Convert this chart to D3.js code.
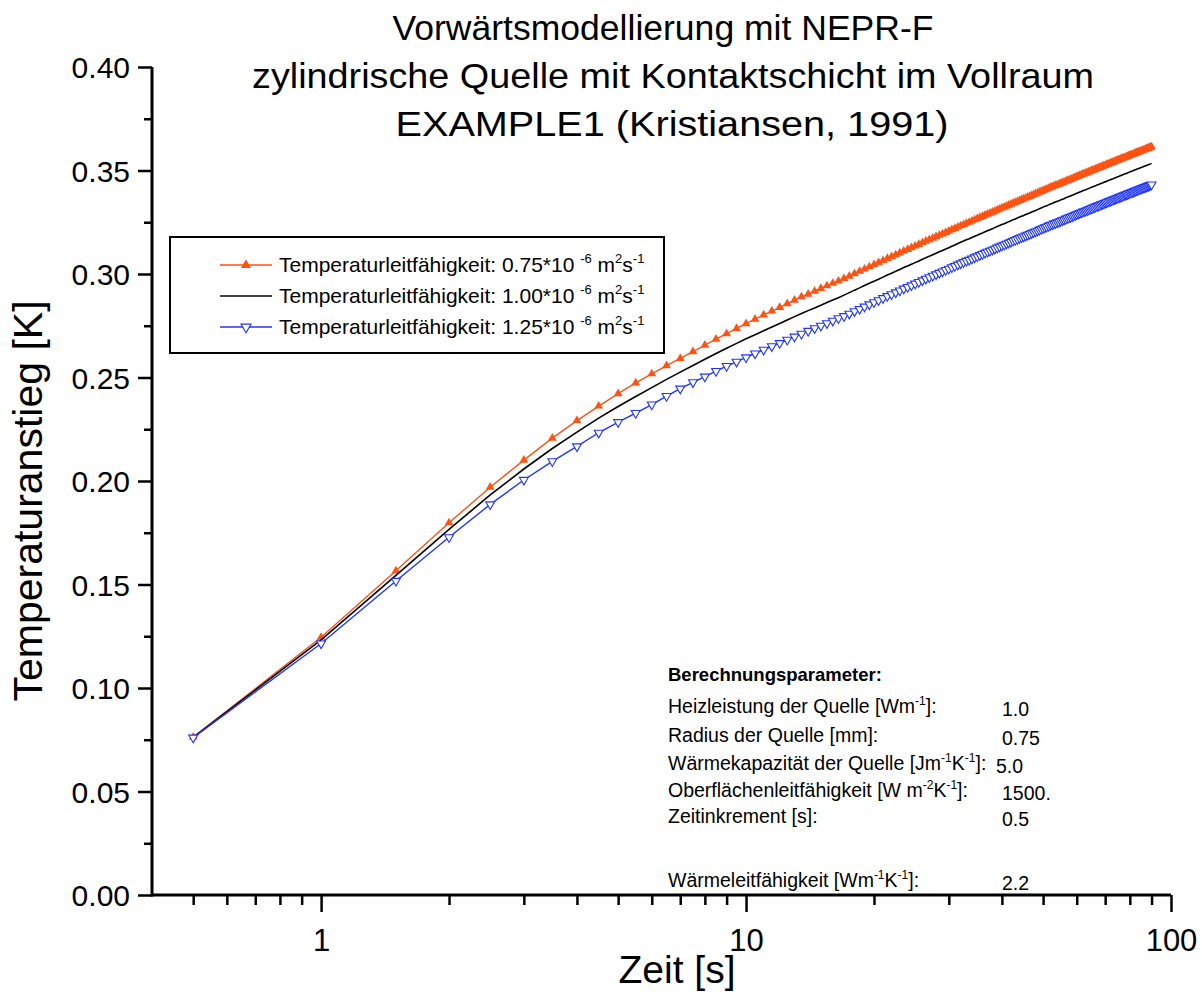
<!DOCTYPE html>
<html>
<head>
<meta charset="utf-8">
<script src="https://cdn.jsdelivr.net/npm/d3@7"></script>
<style>
  body { margin: 0; background: #fff; }
  svg { display: block; }
  text { font-family: "Liberation Sans", Arial, Helvetica, sans-serif; fill: #000; }
</style>
</head>
<body>
<svg id="chart" width="1202" height="997"></svg>
<script>
// Sampling times [s] (time increment 0.5 s)
const time = [
  0.5,1,1.5,2,2.5,3,3.5,4,4.5,5,5.5,6,6.5,7,7.5,8,8.5,9,9.5,10,
  10.5,11,11.5,12,12.5,13,13.5,14,14.5,15,15.5,16,16.5,17,17.5,18,18.5,19,19.5,20,
  20.5,21,21.5,22,22.5,23,23.5,24,24.5,25,25.5,26,26.5,27,27.5,28,28.5,29,29.5,30,
  30.5,31,31.5,32,32.5,33,33.5,34,34.5,35,35.5,36,36.5,37,37.5,38,38.5,39,39.5,40,
  40.5,41,41.5,42,42.5,43,43.5,44,44.5,45,45.5,46,46.5,47,47.5,48,48.5,49,49.5,50,
  50.5,51,51.5,52,52.5,53,53.5,54,54.5,55,55.5,56,56.5,57,57.5,58,58.5,59,59.5,60,
  60.5,61,61.5,62,62.5,63,63.5,64,64.5,65,65.5,66,66.5,67,67.5,68,68.5,69,69.5,70,
  70.5,71,71.5,72,72.5,73,73.5,74,74.5,75,75.5,76,76.5,77,77.5,78,78.5,79,79.5,80,
  80.5,81,81.5,82,82.5,83,83.5,84,84.5,85,85.5,86,86.5,87,87.5,88,88.5,89,89.5,90
];

// Temperature rise [K], thermal diffusivity 0.75e-6 m^2/s
const rise075 = [
  0.0763,0.1245,0.1566,0.1798,0.1970,0.2101,0.2207,0.2292,0.2362,0.2422,0.2474,0.2518,0.2557,0.2592,0.2625,0.2656,0.2685,0.2712,0.2737,0.2760,
  0.2782,0.2802,0.2821,0.2839,0.2857,0.2874,0.2890,0.2903,0.2917,0.2930,0.2943,0.2955,0.2966,0.2978,0.2990,0.3002,0.3013,0.3024,0.3035,0.3045,
  0.3055,0.3065,0.3075,0.3084,0.3093,0.3102,0.3111,0.3119,0.3127,0.3135,0.3143,0.3151,0.3159,0.3166,0.3173,0.3180,0.3187,0.3194,0.3201,0.3207,
  0.3214,0.3220,0.3227,0.3233,0.3239,0.3245,0.3250,0.3256,0.3262,0.3267,0.3273,0.3278,0.3284,0.3289,0.3294,0.3299,0.3304,0.3309,0.3314,0.3319,
  0.3323,0.3328,0.3333,0.3337,0.3342,0.3346,0.3350,0.3355,0.3359,0.3363,0.3367,0.3371,0.3375,0.3379,0.3383,0.3387,0.3391,0.3395,0.3399,0.3403,
  0.3407,0.3410,0.3414,0.3418,0.3421,0.3425,0.3428,0.3431,0.3434,0.3438,0.3441,0.3444,0.3448,0.3451,0.3454,0.3457,0.3460,0.3463,0.3467,0.3470,
  0.3473,0.3476,0.3479,0.3482,0.3485,0.3487,0.3490,0.3493,0.3496,0.3499,0.3501,0.3504,0.3507,0.3510,0.3512,0.3515,0.3518,0.3520,0.3523,0.3525,
  0.3528,0.3530,0.3533,0.3535,0.3538,0.3540,0.3543,0.3545,0.3548,0.3550,0.3552,0.3555,0.3557,0.3559,0.3562,0.3564,0.3566,0.3568,0.3571,0.3573,
  0.3575,0.3577,0.3579,0.3582,0.3584,0.3586,0.3588,0.3590,0.3592,0.3594,0.3596,0.3598,0.3600,0.3602,0.3604,0.3606,0.3608,0.3610,0.3612,0.3614
];

// Temperature rise [K], thermal diffusivity 1.00e-6 m^2/s
const rise100 = [
  0.0762,0.1232,0.1544,0.1766,0.1933,0.2058,0.2157,0.2236,0.2304,0.2360,0.2408,0.2451,0.2491,0.2526,0.2558,0.2588,0.2616,0.2641,0.2665,0.2687,
  0.2707,0.2726,0.2744,0.2761,0.2778,0.2794,0.2809,0.2823,0.2836,0.2849,0.2862,0.2874,0.2885,0.2898,0.2910,0.2922,0.2933,0.2944,0.2955,0.2965,
  0.2975,0.2985,0.2995,0.3004,0.3013,0.3022,0.3031,0.3039,0.3047,0.3055,0.3063,0.3071,0.3079,0.3086,0.3093,0.3100,0.3107,0.3114,0.3121,0.3127,
  0.3134,0.3140,0.3147,0.3153,0.3159,0.3165,0.3170,0.3176,0.3182,0.3187,0.3193,0.3198,0.3204,0.3209,0.3214,0.3219,0.3224,0.3229,0.3234,0.3239,
  0.3243,0.3248,0.3253,0.3257,0.3262,0.3266,0.3270,0.3275,0.3279,0.3283,0.3287,0.3291,0.3295,0.3299,0.3303,0.3307,0.3311,0.3315,0.3319,0.3323,
  0.3327,0.3330,0.3334,0.3338,0.3341,0.3345,0.3348,0.3351,0.3354,0.3358,0.3361,0.3364,0.3368,0.3371,0.3374,0.3377,0.3380,0.3383,0.3387,0.3390,
  0.3393,0.3396,0.3399,0.3402,0.3405,0.3407,0.3410,0.3413,0.3416,0.3419,0.3421,0.3424,0.3427,0.3430,0.3432,0.3435,0.3438,0.3440,0.3443,0.3445,
  0.3448,0.3450,0.3453,0.3455,0.3458,0.3460,0.3463,0.3465,0.3468,0.3470,0.3472,0.3475,0.3477,0.3479,0.3482,0.3484,0.3486,0.3488,0.3491,0.3493,
  0.3495,0.3497,0.3499,0.3502,0.3504,0.3506,0.3508,0.3510,0.3512,0.3514,0.3516,0.3518,0.3520,0.3522,0.3524,0.3526,0.3528,0.3530,0.3532,0.3534
];

// Temperature rise [K], thermal diffusivity 1.25e-6 m^2/s
const rise125 = [
  0.0760,0.1215,0.1517,0.1728,0.1887,0.2005,0.2095,0.2167,0.2233,0.2284,0.2328,0.2369,0.2410,0.2446,0.2477,0.2504,0.2531,0.2555,0.2576,0.2597,
  0.2616,0.2634,0.2651,0.2666,0.2682,0.2697,0.2711,0.2725,0.2738,0.2750,0.2762,0.2774,0.2786,0.2796,0.2808,0.2820,0.2831,0.2842,0.2853,0.2863,
  0.2873,0.2883,0.2893,0.2902,0.2911,0.2920,0.2929,0.2937,0.2945,0.2953,0.2961,0.2969,0.2977,0.2984,0.2991,0.2998,0.3005,0.3012,0.3019,0.3025,
  0.3032,0.3038,0.3045,0.3051,0.3057,0.3063,0.3068,0.3074,0.3080,0.3085,0.3091,0.3096,0.3102,0.3107,0.3112,0.3117,0.3122,0.3127,0.3132,0.3137,
  0.3141,0.3146,0.3151,0.3155,0.3160,0.3164,0.3168,0.3173,0.3177,0.3181,0.3185,0.3189,0.3193,0.3197,0.3201,0.3205,0.3209,0.3213,0.3217,0.3221,
  0.3225,0.3228,0.3232,0.3236,0.3239,0.3243,0.3246,0.3249,0.3252,0.3256,0.3259,0.3262,0.3266,0.3269,0.3272,0.3275,0.3278,0.3281,0.3285,0.3288,
  0.3291,0.3294,0.3297,0.3300,0.3303,0.3305,0.3308,0.3311,0.3314,0.3317,0.3319,0.3322,0.3325,0.3328,0.3330,0.3333,0.3336,0.3338,0.3341,0.3343,
  0.3346,0.3348,0.3351,0.3353,0.3356,0.3358,0.3361,0.3363,0.3366,0.3368,0.3370,0.3373,0.3375,0.3377,0.3380,0.3382,0.3384,0.3386,0.3389,0.3391,
  0.3393,0.3395,0.3397,0.3400,0.3402,0.3404,0.3406,0.3408,0.3410,0.3412,0.3414,0.3416,0.3418,0.3420,0.3422,0.3424,0.3426,0.3428,0.3430,0.3432
];

// Axis ticks
const xMajorTicks = [1, 10, 100];
const xMinorTicks = [0.5,0.6,0.7,0.8,0.9,2,3,4,5,6,7,8,9,20,30,40,50,60,70,80,90];
const yMajorTicks = [0.00,0.05,0.10,0.15,0.20,0.25,0.30,0.35,0.40];
const yMinorTicks = [0.025,0.075,0.125,0.175,0.225,0.275,0.325,0.375];

// Texts
const titleLines = [
  "Vorwärtsmodellierung mit NEPR-F",
  "zylindrische Quelle mit Kontaktschicht im Vollraum",
  "EXAMPLE1 (Kristiansen, 1991)"
];
const xTitle = "Zeit [s]";
const yTitle = "Temperaturanstieg [K]";
const diffusivityLabels = ["0.75", "1.00", "1.25"];
const paramHeader = "Berechnungsparameter:";
// each label is a list of [text, isSuperscript] pieces
const paramLabels = [
  [["Heizleistung der Quelle [Wm", 0], ["-1", 1], ["]:", 0]],
  [["Radius der Quelle [mm]:", 0]],
  [["Wärmekapazität der Quelle [Jm", 0], ["-1", 1], ["K", 0], ["-1", 1], ["]:", 0]],
  [["Oberflächenleitfähigkeit [W m", 0], ["-2", 1], ["K", 0], ["-1", 1], ["]:", 0]],
  [["Zeitinkrement [s]:", 0]],
  [["Wärmeleitfähigkeit [Wm", 0], ["-1", 1], ["K", 0], ["-1", 1], ["]:", 0]]
];
const paramValues = ["1.0", "0.75", "5.0", "1500.", "0.5", "2.2"];

// ---------------------------------------------------------------
const svg = d3.select("#chart");
const ORANGE = "#ff5314";
const BLUE = "#1f35ff";

const x = d3.scaleLog().domain([0.4, 100]).range([152, 1171]);
const y = d3.scaleLinear().domain([0, 0.4]).range([895, 67]);

// Title (three centred lines, widths fitted to the layout)
const titleWidths = [541, 842, 553];
const titleCentres = [663, 673, 672];
svg.append("g").selectAll("text").data(titleLines).join("text")
  .attr("x", (d, i) => titleCentres[i]).attr("y", (d, i) => 40 + i * 48)
  .attr("text-anchor", "middle").attr("font-size", 35)
  .attr("textLength", (d, i) => titleWidths[i]).attr("lengthAdjust", "spacingAndGlyphs")
  .text(d => d);

// X axis
const gx = svg.append("g").attr("transform", `translate(0,${y(0)})`);
gx.call(d3.axisBottom(x).tickValues(xMinorTicks).tickSize(10).tickSizeOuter(0).tickFormat(""));
gx.call(g => g.select(".domain").remove());
const gx2 = svg.append("g").attr("transform", `translate(0,${y(0)})`);
gx2.call(d3.axisBottom(x).tickValues(xMajorTicks).tickSize(17).tickSizeOuter(0).tickFormat(d3.format("d")));
gx2.select(".domain").attr("stroke-width", 3).attr("d", `M${x.range()[0]},0H${x.range()[1]}`);
[gx, gx2].forEach(g => g.selectAll(".tick line").attr("stroke-width", 2.5));
gx2.selectAll(".tick text").attr("y", 56).attr("dy", 0).attr("font-size", 31).attr("font-family", null);

// Y axis
const gy = svg.append("g").attr("transform", `translate(${x(0.4)},0)`);
gy.call(d3.axisLeft(y).tickValues(yMinorTicks).tickSize(8).tickSizeOuter(0).tickFormat(""));
gy.call(g => g.select(".domain").remove());
const gy2 = svg.append("g").attr("transform", `translate(${x(0.4)},0)`);
gy2.call(d3.axisLeft(y).tickValues(yMajorTicks).tickSize(14).tickSizeOuter(0).tickFormat(d3.format(".2f")));
gy2.select(".domain").attr("stroke-width", 3).attr("d", `M0,${y.range()[1]}V${y.range()[0] + 1.5}`);
[gy, gy2].forEach(g => g.selectAll(".tick line").attr("stroke-width", 2.5));
gy2.selectAll(".tick text").attr("x", -22).attr("dy", "0.36em").attr("font-size", 30).attr("font-family", null);
svg.selectAll(".tick text").style("font-family", '"Liberation Sans", Arial, sans-serif');

// Axis titles
svg.append("text").attr("x", 677).attr("y", 983).attr("text-anchor", "middle")
  .attr("font-size", 39).text(xTitle);
svg.append("text").attr("transform", "translate(42,501) rotate(-90)").attr("text-anchor", "middle")
  .attr("font-size", 41).text(yTitle);

// Curves
const pts = vals => time.map((t, i) => [t, vals[i]]);
const line = d3.line().x(d => x(d[0])).y(d => y(d[1]));
const plot = svg.append("g");

const tri = d3.symbol().type(d3.symbolTriangle).size(34)();
const triLegend = d3.symbol().type(d3.symbolTriangle).size(44)();

// 0.75e-6 : orange line with filled up-triangles
plot.append("path").datum(pts(rise075)).attr("d", line)
  .attr("fill", "none").attr("stroke", ORANGE).attr("stroke-width", 1.4);
plot.append("g").selectAll("path").data(pts(rise075)).join("path")
  .attr("d", tri).attr("transform", d => `translate(${x(d[0])},${y(d[1])})`)
  .attr("fill", ORANGE);

// 1.00e-6 : black line
plot.append("path").datum(pts(rise100)).attr("d", line)
  .attr("fill", "none").attr("stroke", "#000").attr("stroke-width", 1.6);

// 1.25e-6 : blue line with open down-triangles
plot.append("path").datum(pts(rise125)).attr("d", line)
  .attr("fill", "none").attr("stroke", BLUE).attr("stroke-width", 1.4);
plot.append("g").selectAll("path").data(pts(rise125)).join("path")
  .attr("d", tri).attr("transform", d => `translate(${x(d[0])},${y(d[1])}) rotate(180)`)
  .attr("fill", "#fff").attr("stroke", BLUE).attr("stroke-width", 1.1);

// Legend
const legend = svg.append("g");
legend.append("rect").attr("x", 170).attr("y", 237).attr("width", 494).attr("height", 116)
  .attr("fill", "#fff").attr("stroke", "#000").attr("stroke-width", 2);
const legendStyles = [
  { color: ORANGE, marker: "up" },
  { color: "#000", marker: null },
  { color: BLUE, marker: "down" }
];
diffusivityLabels.forEach((lab, i) => {
  const cy = 265 + i * 31;
  const st = legendStyles[i];
  legend.append("line").attr("x1", 220).attr("x2", 272).attr("y1", cy).attr("y2", cy)
    .attr("stroke", st.color).attr("stroke-width", 1.6);
  if (st.marker === "up") {
    legend.append("path").attr("d", triLegend).attr("transform", `translate(246,${cy})`).attr("fill", st.color);
  } else if (st.marker === "down") {
    legend.append("path").attr("d", triLegend).attr("transform", `translate(246,${cy}) rotate(180)`)
      .attr("fill", "#fff").attr("stroke", st.color).attr("stroke-width", 1.1);
  }
  const t = legend.append("text").attr("x", 279).attr("y", cy + 7).attr("font-size", 21);
  t.append("tspan").text(`Temperaturleitfähigkeit: ${lab}*10 `);
  t.append("tspan").attr("font-size", 13).attr("dy", -9).text("-6");
  t.append("tspan").attr("dy", 9).text(" m");
  t.append("tspan").attr("font-size", 13).attr("dy", -9).text("2");
  t.append("tspan").attr("dy", 9).text("s");
  t.append("tspan").attr("font-size", 13).attr("dy", -9).text("-1");
});

// Calculation parameters
const params = svg.append("g");
params.append("text").attr("x", 668).attr("y", 681).attr("font-size", 18.5)
  .attr("font-weight", "bold").text(paramHeader);
const rowY = [713, 742, 770, 797, 823, 887];
paramLabels.forEach((pieces, i) => {
  const t = params.append("text").attr("x", 668).attr("y", rowY[i]).attr("font-size", 19.5);
  let raised = false;
  pieces.forEach(([s, sup]) => {
    const ts = t.append("tspan").text(s);
    if (sup && !raised) { ts.attr("font-size", 12).attr("dy", -8); raised = true; }
    else if (!sup && raised) { ts.attr("dy", 8); raised = false; }
  });
  params.append("text").attr("x", i === 2 ? 996 : 1002).attr("y", rowY[i] + 3)
    .attr("font-size", 19.5).text(paramValues[i]);
});
</script>
</body>
</html>
